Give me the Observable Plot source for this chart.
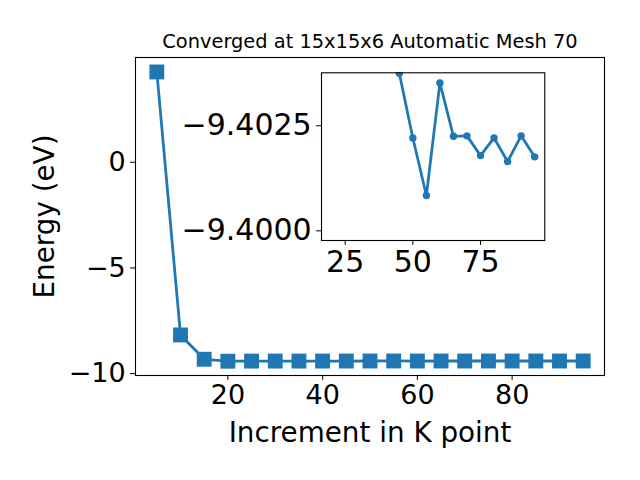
<!DOCTYPE html>
<html><head><meta charset="utf-8">
<script src="https://cdn.jsdelivr.net/npm/d3@7"></script>
<script src="https://cdn.jsdelivr.net/npm/@observablehq/plot@0.6"></script>
<style>
body{margin:0;background:#fff}
#c{position:relative;width:640px;height:480px}
#c svg{position:absolute;left:0;top:0}
</style>
</head><body><div id="c"></div>
<script>
const kpoints = [5,10,15,20,25,30,35,40,45,50,55,60,65,70,75,80,85,90,95];
const energies = [4.27,-8.17,-9.32,-9.4120,-9.4058,-9.4050,-9.4046,-9.4043,-9.40375,-9.40221,-9.40084,-9.40352,-9.40225,-9.40226,-9.40179,-9.40221,-9.40165,-9.40226,-9.40176];
const mainXTicks = [20,40,60,80];
const mainYTicks = [-10,-5,0];
const insetXTicks = [25,50,75];
const insetYTicks = [-9.4025,-9.4000];
const titleText = "Converged at 15x15x6 Automatic Mesh 70";
const xLabel = "Increment in K point";
const yLabel = "Energy (eV)";
const insetMinK = 20;

const blue = "#1f77b4";
const font = "DejaVu Sans";
const data = kpoints.map((k,i)=>({k, e: energies[i]}));
const insetData = data.filter(d=>d.k>=insetMinK);

const main = Plot.plot({
  width:640, height:480,
  marginLeft:135, marginRight:36, marginTop:57, marginBottom:105,
  style:{fontFamily:font, fontSize:"27px", color:"black", background:"transparent"},
  x:{domain:[0.5,99.5], ticks:mainXTicks, tickSize:4.9, tickPadding:4.9, label:null},
  y:{domain:[-10.088,4.954], ticks:mainYTicks, tickSize:4.9, tickPadding:4.9, label:null, tickFormat:d3.format("d")},
  marks:[
    Plot.line(data,{x:"k",y:"e",stroke:blue,strokeWidth:2.78}),
    Plot.dot(data,{x:"k",y:"e",symbol:"square",r:8.4,fill:blue}),
    Plot.frame({stroke:"black",strokeWidth:1.1}),
    Plot.text([titleText],{text:d=>d,frameAnchor:"top",dy:-9.3,lineAnchor:"bottom",textAnchor:"middle",fontSize:19.4,fill:"black"}),
    Plot.text([xLabel],{text:d=>d,frameAnchor:"bottom",dy:66.7,lineAnchor:"bottom",textAnchor:"middle",fontSize:27.8,fill:"black"}),
    Plot.text([yLabel],{text:d=>d,frameAnchor:"left",dx:-81.5,rotate:-90,lineAnchor:"bottom",textAnchor:"middle",fontSize:27.8,fill:"black"})
  ]
});

const inset = Plot.plot({
  width:640, height:480,
  marginLeft:321, marginRight:95.7, marginTop:72.3, marginBottom:240,
  style:{fontFamily:font, fontSize:"30px", color:"black", background:"transparent"},
  x:{domain:[16.25,98.75], ticks:insetXTicks, tickSize:4.9, tickPadding:4.9, label:null},
  y:{domain:[-9.39977,-9.40376], ticks:insetYTicks, tickSize:4.9, tickPadding:4.9, label:null, tickFormat:d3.format(".4f")},
  marks:[
    Plot.frame({fill:"white"}),
    Plot.line(insetData,{x:"k",y:"e",stroke:blue,strokeWidth:2.78,clip:true}),
    Plot.dot(insetData,{x:"k",y:"e",r:3.7,fill:blue,clip:true}),
    Plot.frame({stroke:"black",strokeWidth:1.1})
  ]
});

document.getElementById("c").append(main, inset);
</script>
</body></html>
